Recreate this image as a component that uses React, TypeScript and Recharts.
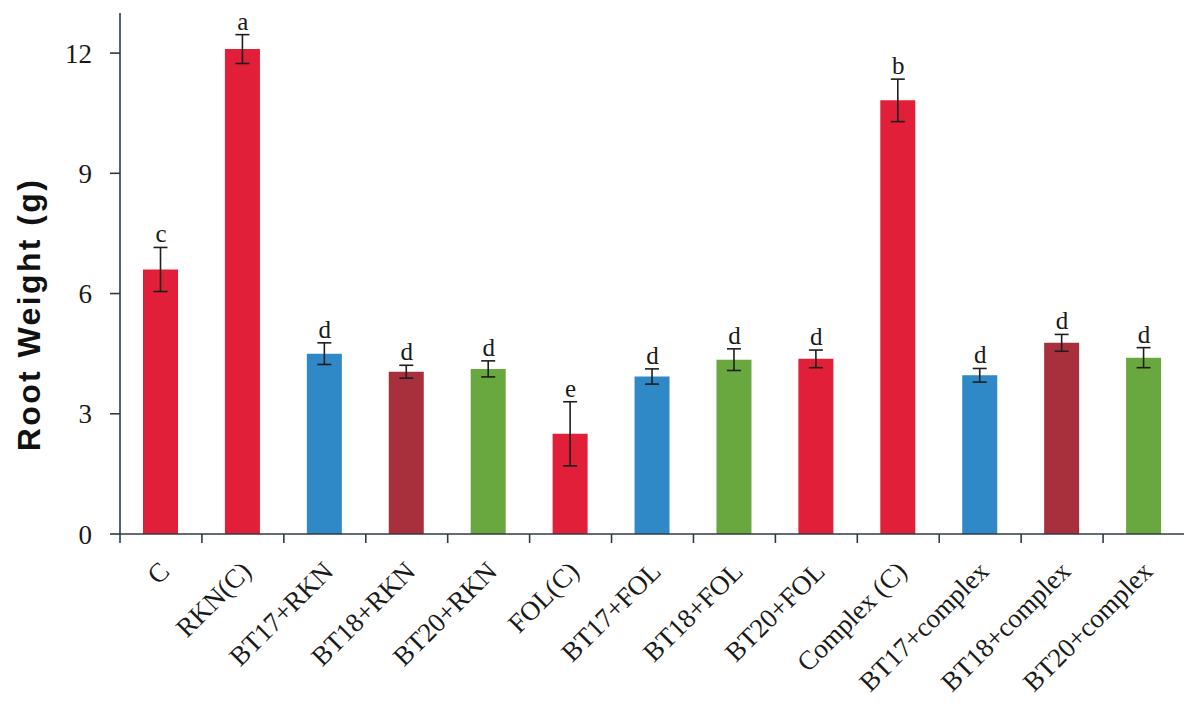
import React from "react";
import {
  ComposedChart,
  Bar,
  Line,
  XAxis,
  YAxis,
  ErrorBar,
  Cell,
  LabelList,
  Label,
} from "recharts";

const treatments = [
  "C",
  "RKN(C)",
  "BT17+RKN",
  "BT18+RKN",
  "BT20+RKN",
  "FOL(C)",
  "BT17+FOL",
  "BT18+FOL",
  "BT20+FOL",
  "Complex (C)",
  "BT17+complex",
  "BT18+complex",
  "BT20+complex",
];
const rootWeight = [6.6, 12.1, 4.5, 4.05, 4.12, 2.5, 3.93, 4.35, 4.37, 10.82, 3.96, 4.77, 4.4];
const stdError = [0.55, 0.36, 0.27, 0.16, 0.2, 0.8, 0.19, 0.27, 0.22, 0.53, 0.17, 0.21, 0.25];
const groupLetters = ["c", "a", "d", "d", "d", "e", "d", "d", "d", "b", "d", "d", "d"];
const yTicks = [0, 3, 6, 9, 12];

const RED = "#e11f38";
const BLUE = "#2e89c6";
const MAROON = "#a8303d";
const GREEN = "#69a83f";
const barColors = [RED, RED, BLUE, MAROON, GREEN, RED, BLUE, GREEN, RED, RED, BLUE, MAROON, GREEN];

const data = treatments.map((name, i) => ({
  name,
  weight: rootWeight[i],
  err: stdError[i],
  top: rootWeight[i] + stdError[i],
  letter: groupLetters[i],
}));

const WIDTH = 1184;
const HEIGHT = 700;
const MARGIN = { top: 5, right: 7, bottom: 0, left: 0 };
const Y_AXIS_W = 112;
const BAND = (WIDTH - MARGIN.left - MARGIN.right - Y_AXIS_W) / treatments.length;
const TICK_LEN = 9;

const AXIS = "#2d3b45";
const SERIF = "'Liberation Serif', 'Times New Roman', serif";

// tick marks sit on category boundaries, labels run diagonally under the band centre
function CategoryTick(props: any) {
  const { x, y, payload, index } = props;
  const half = BAND / 2;
  const last = index === treatments.length - 1;
  const ax = x + 10;
  const ay = y + 30;
  return (
    <g>
      <line x1={x - half} x2={x - half} y1={y - TICK_LEN} y2={y} stroke={AXIS} strokeWidth={1.6} />
      {last ? (
        <line x1={x + half} x2={x + half} y1={y - TICK_LEN} y2={y} stroke={AXIS} strokeWidth={1.6} />
      ) : null}
      <text
        x={ax}
        y={ay}
        textAnchor="end"
        transform={`rotate(-45 ${ax} ${ay})`}
        fontFamily={SERIF}
        fontSize={27}
        fill="#1a1a1a"
      >
        {payload.value}
      </text>
    </g>
  );
}

function YTitle(props: any) {
  const { viewBox } = props;
  const cx = 21;
  const cy = viewBox.y + viewBox.height / 2 + 41;
  return (
    <text
      x={cx}
      y={cy}
      transform={`rotate(-90 ${cx} ${cy})`}
      textAnchor="middle"
      dominantBaseline="central"
      fontFamily="'Liberation Sans', Arial, sans-serif"
      fontWeight={700}
      fontSize={32}
      letterSpacing={2.4}
      fill="#111"
    >
      Root Weight (g)
    </text>
  );
}

export default function App() {
  return (
    <div style={{ width: WIDTH, height: HEIGHT, background: "#fff" }}>
      <ComposedChart width={WIDTH} height={HEIGHT} data={data} margin={MARGIN}>
        <XAxis
          dataKey="name"
          interval={0}
          height={174}
          tickLine={false}
          tickSize={TICK_LEN}
          tickMargin={0}
          tick={<CategoryTick />}
          stroke={AXIS}
          strokeWidth={1.6}
        />
        <YAxis
          domain={[0, 13]}
          ticks={yTicks}
          width={Y_AXIS_W}
          tickSize={10}
          tickMargin={18}
          stroke={AXIS}
          strokeWidth={1.6}
          tick={{ fontFamily: SERIF, fontSize: 27, fill: "#1a1a1a" }}
        >
          <Label content={<YTitle />} />
        </YAxis>
        <Bar dataKey="weight" barSize={35} isAnimationActive={false}>
          {data.map((d, i) => (
            <Cell key={d.name} fill={barColors[i]} />
          ))}
          <ErrorBar dataKey="err" width={7} stroke="#1e1e1e" strokeWidth={1.6} />
        </Bar>
        {/* invisible line through the error-bar tops carries the group letters */}
        <Line
          dataKey="top"
          stroke="none"
          dot={false}
          activeDot={false}
          isAnimationActive={false}
        >
          <LabelList
            dataKey="letter"
            position="top"
            offset={5}
            style={{ fontFamily: SERIF, fontSize: 25, fill: "#1a1a1a" }}
          />
        </Line>
      </ComposedChart>
    </div>
  );
}
